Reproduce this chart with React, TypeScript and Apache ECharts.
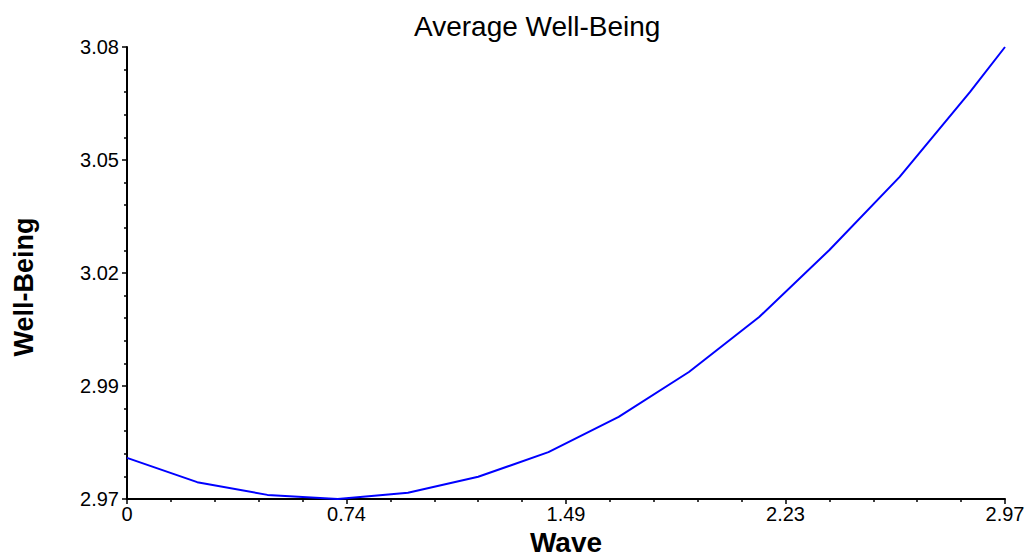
import React, { useEffect, useRef } from "react";
import * as echarts from "echarts";

const waveValues = [0, 0.2376, 0.4752, 0.7128, 0.9504, 1.188, 1.4256, 1.6632, 1.9008, 2.1384, 2.376, 2.6136, 2.8512, 2.97];
const wellBeing = [2.98, 2.9741, 2.971, 2.97, 2.9715, 2.9754, 2.9814, 2.99, 3.0009, 3.0143, 3.0306, 3.0484, 3.069, 3.08];
const xTickLabels = ["0", "0.74", "1.49", "2.23", "2.97"];
const yTickLabels = ["2.97", "2.99", "3.02", "3.05", "3.08"];

const X_MIN = 0;
const X_STEP = 0.7425;
const Y_MIN = 2.97;
const Y_STEP = 0.0275;

export default function App() {
  const ref = useRef<HTMLDivElement>(null);
  useEffect(() => {
    if (!ref.current) return;
    const chart = echarts.init(ref.current, undefined, { renderer: "svg" });
    const font = "Liberation Sans, Arial, sans-serif";
    chart.setOption({
      animation: false,
      title: {
        text: "Average Well-Being",
        left: 409,
        top: 7,
        textStyle: { fontFamily: font, fontSize: 28, fontWeight: "normal", color: "#000" },
      },
      grid: { left: 127, right: 23, top: 47, bottom: 59, containLabel: false, outerBoundsMode: "none" },
      xAxis: {
        type: "value",
        min: X_MIN,
        max: X_MIN + X_STEP * 4,
        interval: X_STEP,
        name: "Wave",
        nameLocation: "middle",
        nameGap: 29,
        nameTextStyle: { fontFamily: font, fontSize: 28, fontWeight: "bold", color: "#000" },
        axisLine: { show: true, onZero: false, lineStyle: { color: "#000", width: 2 } },
        axisTick: { show: true, length: 5, lineStyle: { color: "#000", width: 1.5 } },
        minorTick: { show: true, splitNumber: 5, length: 3, lineStyle: { color: "#000", width: 1.5 } },
        splitLine: { show: false },
        axisLabel: {
          margin: 5,
          fontFamily: font,
          fontSize: 20,
          color: "#000",
          showMinLabel: true,
          showMaxLabel: true,
          formatter: (v: number) => xTickLabels[Math.round((v - X_MIN) / X_STEP)] ?? "",
        },
      },
      yAxis: {
        type: "value",
        min: Y_MIN,
        max: Y_MIN + Y_STEP * 4,
        interval: Y_STEP,
        name: "Well-Being",
        nameLocation: "middle",
        nameGap: 90,
        nameTextStyle: { fontFamily: font, fontSize: 27, fontWeight: "bold", color: "#000", padding: [0, 28, 0, 0] },
        axisLine: { show: true, onZero: false, lineStyle: { color: "#000", width: 2 } },
        axisTick: { show: true, length: 5, lineStyle: { color: "#000", width: 1.5 } },
        minorTick: { show: true, splitNumber: 5, length: 3, lineStyle: { color: "#000", width: 1.5 } },
        splitLine: { show: false },
        axisLabel: {
          margin: 8,
          fontFamily: font,
          fontSize: 20,
          color: "#000",
          showMinLabel: true,
          showMaxLabel: true,
          formatter: (v: number) => yTickLabels[Math.round((v - Y_MIN) / Y_STEP)] ?? "",
        },
      },
      series: [
        {
          type: "line",
          data: waveValues.map((x, i) => [x, wellBeing[i]]),
          showSymbol: false,
          symbol: "none",
          lineStyle: { color: "#0000ff", width: 2 },
          clip: false,
        },
      ],
    });
    return () => chart.dispose();
  }, []);
  return <div ref={ref} style={{ width: 1028, height: 558, position: "absolute", left: 0, top: 0 }} />;
}
